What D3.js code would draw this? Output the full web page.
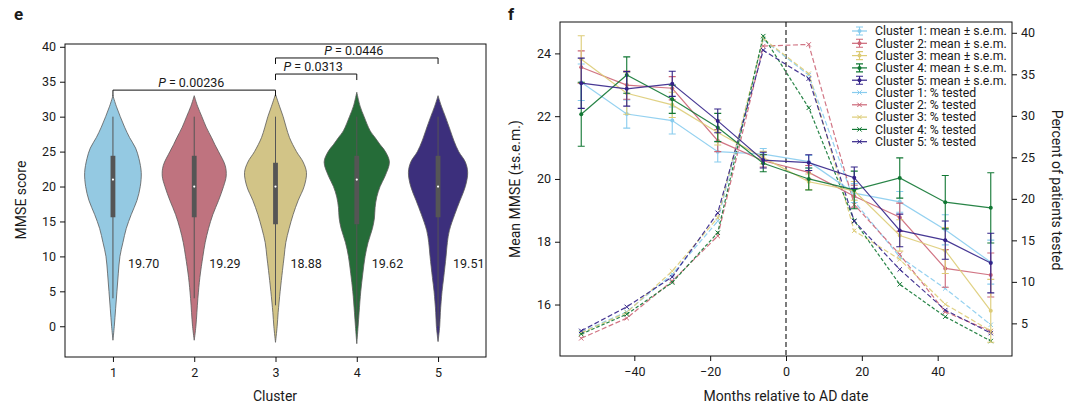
<!DOCTYPE html>
<html>
<head>
<meta charset="utf-8">
<script src="https://cdn.jsdelivr.net/npm/d3@7"></script>
<style>
  body { margin: 0; background: #fff; }
  text { font-family: Roboto, "Noto Sans", sans-serif; fill: #1a1a1a; }
</style>
</head>
<body>
<script>
// ---------- data : panel e ----------
var clusters = [1, 2, 3, 4, 5];
var clusterColors = ["#88CCEE", "#CC6677", "#DDCC77", "#117733", "#332288"];
var violinColors = ["#94C9E2", "#BF737F", "#D2C487", "#256C38", "#3C2F7C"];
var clusterMeans = ["19.70", "19.29", "18.88", "19.62", "19.51"];

// violin outline: [MMSE score, relative density]
var violinDensity = [
  [[-2,0],[0,0.04],[2.5,0.08],[5,0.12],[7.5,0.16],[10,0.21],[12,0.3],[14,0.4],[16,0.55],[18,0.72],[20,0.82],[22,0.85],[24,0.78],[25.5,0.68],[27,0.5],[28.5,0.35],[30,0.22],[31.5,0.1],[33,0]],
  [[-2,0],[0,0.05],[4,0.11],[7,0.17],[10,0.26],[12,0.33],[14,0.43],[16,0.56],[18,0.73],[20,0.88],[21.5,0.96],[23,0.93],[25,0.73],[26,0.62],[27,0.52],[28.5,0.36],[30,0.23],[31.5,0.1],[33,0]],
  [[-2.3,0],[0,0.05],[2,0.08],[5,0.14],[8,0.21],[10,0.26],[12,0.31],[14,0.41],[16,0.53],[18,0.68],[20,0.86],[22,0.93],[23.5,0.83],[25,0.63],[27,0.42],[28.5,0.32],[30,0.23],[31.5,0.12],[33.2,0]],
  [[-2.5,0],[0,0.04],[2,0.07],[5,0.12],[7.5,0.18],[10,0.25],[12,0.34],[14,0.47],[15.5,0.53],[17,0.55],[18.5,0.6],[20,0.7],[21.5,0.85],[23.5,0.98],[25,0.86],[26,0.7],[27,0.55],[28,0.4],[30,0.22],[31.5,0.1],[33.5,0]],
  [[-2.2,0],[0,0.05],[2,0.07],[5,0.12],[7,0.17],[10,0.24],[12,0.28],[13.7,0.34],[16,0.5],[18,0.66],[20,0.82],[22,0.89],[23.5,0.82],[25,0.62],[26.5,0.48],[28,0.37],[30,0.22],[31.5,0.1],[33,0]]
];
var boxQ1 = [15.6, 15.6, 14.6, 14.6, 15.6];
var boxMedian = [21, 20, 20, 21, 20];
var boxQ3 = [24.4, 24.4, 23.4, 24.4, 24.4];
var whiskerLow = [4, 4, 3, 0, 0];
var whiskerHigh = [30, 30, 30, 30, 30];

var pairFrom = [1, 3, 3];
var pairTo = [3, 4, 5];
var pairLevel = [33.8, 36.1, 38.4];
var pairP = ["0.00236", "0.0313", "0.0446"];

// ---------- data : panel f ----------
var months = [-54, -42, -30, -18, -6, 6, 18, 30, 42, 54];
var meanMMSE = [
  [23.08, 22.07, 21.86, 20.87, 20.79, 20.55, 19.55, 19.27, 18.38, 17.35],
  [23.56, 22.99, 22.89, 21.22, 20.58, 20.21, 19.45, 18.78, 17.15, 16.94],
  [23.81, 22.73, 22.36, 21.48, 20.68, 19.91, 19.62, 18.20, 17.72, 15.80],
  [22.06, 23.31, 22.54, 21.64, 20.50, 20.00, 19.65, 20.03, 19.26, 19.08],
  [23.05, 22.87, 23.03, 21.85, 20.60, 20.52, 20.04, 18.36, 18.05, 17.32]
];
var semMMSE = [
  [0.58, 0.45, 0.43, 0.33, 0.18, 0.20, 0.30, 0.33, 0.48, 0.70],
  [0.52, 0.45, 0.37, 0.35, 0.20, 0.22, 0.35, 0.45, 0.60, 0.70],
  [0.75, 0.67, 0.40, 0.40, 0.20, 0.25, 0.30, 0.50, 0.73, 1.00],
  [1.02, 0.58, 0.45, 0.45, 0.27, 0.35, 0.60, 0.64, 0.85, 1.12],
  [0.80, 0.55, 0.40, 0.38, 0.25, 0.25, 0.34, 0.52, 0.61, 0.95]
];
var pctTested = [
  [3.95, 6.40, 10.90, 17.31, 39.2, 34.90, 19.70, 13.0, 9.20, 4.83],
  [3.20, 5.63, 10.10, 15.52, 38.4, 38.60, 19.30, 13.3, 6.39, 4.05],
  [3.85, 6.30, 11.30, 17.72, 39.3, 35.08, 16.16, 12.7, 7.30, 4.10],
  [3.71, 6.10, 9.92, 15.92, 39.6, 30.96, 17.36, 9.7, 5.80, 2.87],
  [4.10, 6.99, 10.59, 18.32, 37.9, 34.48, 17.30, 11.5, 6.60, 3.83]
];

var svg = d3.select("body").append("svg")
  .attr("width", 1074)
  .attr("height", 408);

// ================= panel e =================
var xL = d3.scaleLinear().domain([0.41, 5.59]).range([65, 486]);
var yL = d3.scaleLinear().domain([-4.4, 40.4]).range([357, 44]);
var wL = d3.scaleLinear().domain([0, 1]).range([0, 33.3]);

svg.append("text").attr("x", 14).attr("y", 20)
  .style("font-weight", "bold").style("font-size", "17px").text("e");

var gE = svg.append("g");

clusters.forEach(function(c, i) {
  var cx = xL(c);
  var area = d3.area()
    .x0(function(d) { return cx - wL(d[1]); })
    .x1(function(d) { return cx + wL(d[1]); })
    .y(function(d) { return yL(d[0]); })
    .curve(d3.curveCatmullRom);
  gE.append("path")
    .datum(violinDensity[i])
    .attr("d", area)
    .attr("fill", violinColors[i])
    .attr("stroke", "#5a5a5a")
    .attr("stroke-width", 0.8);

  // inner box
  gE.append("line")
    .attr("x1", cx).attr("x2", cx)
    .attr("y1", yL(whiskerLow[i])).attr("y2", yL(whiskerHigh[i]))
    .attr("stroke", "#555").attr("stroke-width", 1);
  gE.append("rect")
    .attr("x", cx - 2.4).attr("width", 4.8)
    .attr("y", yL(boxQ3[i])).attr("height", yL(boxQ1[i]) - yL(boxQ3[i]))
    .attr("fill", "#555");
  gE.append("circle")
    .attr("cx", cx).attr("cy", yL(boxMedian[i])).attr("r", 1.1)
    .attr("fill", "#fff");

  gE.append("text")
    .attr("x", cx + 15).attr("y", yL(8.3))
    .style("font-size", "12.5px")
    .text(clusterMeans[i]);
});

// significance brackets
pairFrom.forEach(function(a, i) {
  var b = pairTo[i], yy = yL(pairLevel[i]);
  gE.append("path")
    .attr("d", "M" + xL(a) + "," + (yy + 6) + "V" + yy + "H" + xL(b) + "V" + (yy + 6))
    .attr("fill", "none").attr("stroke", "#111").attr("stroke-width", 1);
  var t = gE.append("text")
    .attr("x", (xL(a) + xL(b)) / 2 - 3).attr("y", yy - 3)
    .attr("text-anchor", "middle")
    .style("font-size", "12.5px");
  t.append("tspan").style("font-style", "italic").text("P");
  t.append("tspan").text(" = " + pairP[i]);
});

// axes
var axL = svg.append("g").attr("transform", "translate(65,0)")
  .call(d3.axisLeft(yL).tickValues(d3.range(0, 41, 5)).tickSize(5).tickPadding(4));
var axB = svg.append("g").attr("transform", "translate(0,357)")
  .call(d3.axisBottom(xL).tickValues(clusters).tickFormat(d3.format("d")).tickSize(5).tickPadding(6));
[axL, axB].forEach(function(a) {
  a.select(".domain").remove();
  a.selectAll("text").style("font-size", "12.5px").style("font-family", "Roboto");
  a.selectAll("line").attr("stroke", "#111");
});
svg.append("rect").attr("x", 65).attr("y", 44).attr("width", 421).attr("height", 313)
  .attr("fill", "none").attr("stroke", "#111").attr("stroke-width", 1);

svg.append("text").attr("x", 275).attr("y", 401).attr("text-anchor", "middle")
  .style("font-size", "14px").text("Cluster");
svg.append("text").attr("transform", "translate(26,200) rotate(-90)")
  .attr("text-anchor", "middle").style("font-size", "14px").text("MMSE score");

// ================= panel f =================
var xR = d3.scaleLinear().domain([-59.6, 59.6]).range([560, 1012]);
var yR = d3.scaleLinear().domain([14.36, 25]).range([356, 22]);
var yP = d3.scaleLinear().domain([1.07, 41.3]).range([356, 22]);

svg.append("text").attr("x", 508).attr("y", 20)
  .style("font-weight", "bold").style("font-size", "17px").text("f");

var gF = svg.append("g");

gF.append("line")
  .attr("x1", xR(0)).attr("x2", xR(0)).attr("y1", 22).attr("y2", 356)
  .attr("stroke", "#111").attr("stroke-width", 1.1).attr("stroke-dasharray", "5,3");

function xMark(g, x, y, s, col) {
  g.append("path")
    .attr("d", "M" + (x - s) + "," + (y - s) + "L" + (x + s) + "," + (y + s) +
               "M" + (x - s) + "," + (y + s) + "L" + (x + s) + "," + (y - s))
    .attr("stroke", col).attr("stroke-width", 1);
}

var lineMean = d3.line()
  .x(function(d, j) { return xR(months[j]); })
  .y(function(d) { return yR(d); });
var linePct = d3.line()
  .x(function(d, j) { return xR(months[j]); })
  .y(function(d) { return yP(d); });

// percent tested (dashed)
pctTested.forEach(function(series, i) {
  gF.append("path").datum(series).attr("d", linePct)
    .attr("fill", "none").attr("stroke", clusterColors[i])
    .attr("stroke-width", 1.2).attr("stroke-dasharray", i === 3 ? "3.5,2" : "5,2.5")
    .attr("opacity", 0.9);
  series.forEach(function(v, j) {
    xMark(gF, xR(months[j]), yP(v), 2.2, clusterColors[i]);
  });
});

// mean +- sem
meanMMSE.forEach(function(series, i) {
  var col = clusterColors[i];
  gF.append("path").datum(series).attr("d", lineMean)
    .attr("fill", "none").attr("stroke", col).attr("stroke-width", 1.2)
    .attr("opacity", 0.9);
  series.forEach(function(v, j) {
    var x = xR(months[j]), lo = yR(v - semMMSE[i][j]), hi = yR(v + semMMSE[i][j]);
    gF.append("path")
      .attr("d", "M" + x + "," + lo + "V" + hi +
                 "M" + (x - 3.5) + "," + lo + "H" + (x + 3.5) +
                 "M" + (x - 3.5) + "," + hi + "H" + (x + 3.5))
      .attr("fill", "none").attr("stroke", col).attr("stroke-width", 1.1);
    gF.append("circle").attr("cx", x).attr("cy", yR(v)).attr("r", 2)
      .attr("fill", col);
  });
});

// axes
var axFL = svg.append("g").attr("transform", "translate(560,0)")
  .call(d3.axisLeft(yR).tickValues([16, 18, 20, 22, 24]).tickSize(5).tickPadding(4));
var axFR = svg.append("g").attr("transform", "translate(1012,0)")
  .call(d3.axisRight(yP).tickValues(d3.range(5, 41, 5)).tickSize(5).tickPadding(4));
var axFB = svg.append("g").attr("transform", "translate(0,356)")
  .call(d3.axisBottom(xR).tickValues([-40, -20, 0, 20, 40]).tickSize(5).tickPadding(6)
    .tickFormat(function(d) { return d < 0 ? "\u2212" + (-d) : d; }));
[axFL, axFR, axFB].forEach(function(a) {
  a.select(".domain").remove();
  a.selectAll("text").style("font-size", "12.5px").style("font-family", "Roboto");
  a.selectAll("line").attr("stroke", "#111");
});
svg.append("rect").attr("x", 560).attr("y", 22).attr("width", 452).attr("height", 334)
  .attr("fill", "none").attr("stroke", "#111").attr("stroke-width", 1);

svg.append("text").attr("x", 786).attr("y", 401).attr("text-anchor", "middle")
  .style("font-size", "14px").text("Months relative to AD date");
svg.append("text").attr("transform", "translate(520,189) rotate(-90)")
  .attr("text-anchor", "middle").style("font-size", "14px").text("Mean MMSE (\u00b1s.e.m.)");
svg.append("text").attr("transform", "translate(1052,190) rotate(90)")
  .attr("text-anchor", "middle").style("font-size", "14px").text("Percent of patients tested");

// legend
var legendLabels = clusters.map(function(c) { return "Cluster " + c + ": mean \u00b1 s.e.m."; })
  .concat(clusters.map(function(c) { return "Cluster " + c + ": % tested"; }));
var gLeg = svg.append("g");
gLeg.append("rect").attr("x", 848).attr("y", 24).attr("width", 162).attr("height", 124)
  .attr("fill", "#fff").attr("opacity", 0.85);
legendLabels.forEach(function(lab, k) {
  var yy = 31 + k * 12.3, col = clusterColors[k % 5];
  gLeg.append("line").attr("x1", 852).attr("x2", 867).attr("y1", yy).attr("y2", yy)
    .attr("stroke", col).attr("stroke-width", 1.2);
  if (k < 5) {
    gLeg.append("path")
      .attr("d", "M859.5," + (yy - 4) + "V" + (yy + 4) + "M856," + (yy - 4) + "H863M856," + (yy + 4) + "H863")
      .attr("stroke", col).attr("stroke-width", 1.1).attr("fill", "none");
    gLeg.append("circle").attr("cx", 859.5).attr("cy", yy).attr("r", 2).attr("fill", col);
  } else {
    xMark(gLeg, 859.5, yy, 2.2, col);
  }
  gLeg.append("text").attr("x", 875).attr("y", yy + 4.3)
    .style("font-size", "12.3px").text(lab);
});
</script>
</body>
</html>
